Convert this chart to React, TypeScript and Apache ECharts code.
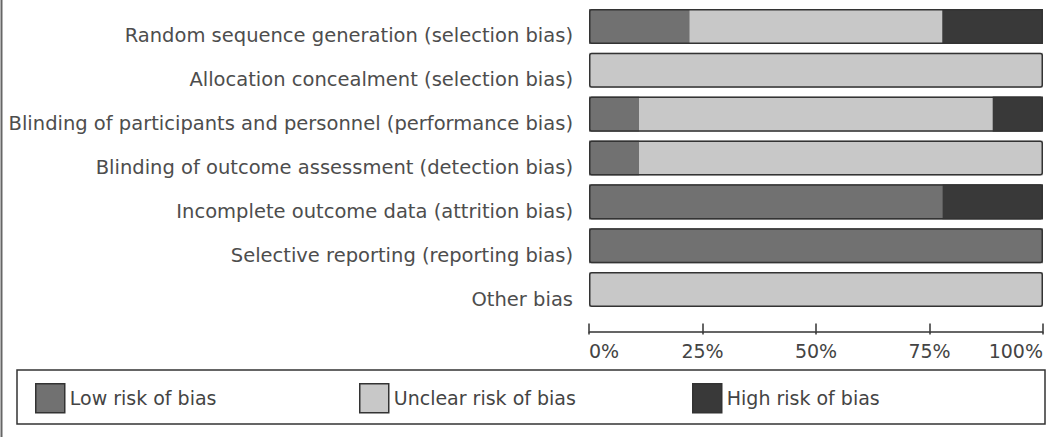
import React, { useEffect, useRef } from "react";
import * as echarts from "echarts";

const categories = [
  "Random sequence generation (selection bias)",
  "Allocation concealment (selection bias)",
  "Blinding of participants and personnel (performance bias)",
  "Blinding of outcome assessment (detection bias)",
  "Incomplete outcome data (attrition bias)",
  "Selective reporting (reporting bias)",
  "Other bias",
];
const lowRisk = [22.2, 0, 11.1, 11.1, 77.8, 100, 0];
const unclearRisk = [55.6, 100, 77.8, 88.9, 0, 0, 100];
const highRisk = [22.2, 0, 11.1, 0, 22.2, 0, 0];
const seriesNames = ["Low risk of bias", "Unclear risk of bias", "High risk of bias"];
const xTicks = [0, 25, 50, 75, 100];

const FONT = "DejaVu Sans";

export default function App() {
  const ref = useRef<HTMLDivElement>(null);
  useEffect(() => {
    if (!ref.current) return;
    const chart = echarts.init(ref.current, undefined, { renderer: "svg" });
    const colors = ["#717171", "#c8c8c8", "#393939"];
    const values = [lowRisk, unclearRisk, highRisk];
    const stackSeries = seriesNames.map((name, i) => ({
      name,
      type: "bar",
      stack: "total",
      barWidth: "80%",
      data: values[i],
      itemStyle: { color: colors[i], borderWidth: 0 },
    }));
    const legendLefts = [35, 359, 692];
    chart.setOption({
      animation: false,
      backgroundColor: "#ffffff",
      grid: { left: 589, right: 15, top: 4.5, height: 307, containLabel: false },
      xAxis: [
        {
          type: "value",
          min: xTicks[0],
          max: xTicks[xTicks.length - 1],
          interval: 25,
          position: "bottom",
          offset: 20,
          splitLine: { show: false },
          axisLine: { show: true, lineStyle: { color: "#333", width: 1.5 } },
          axisTick: { show: true, inside: true, length: 8, lineStyle: { color: "#333", width: 1.5 } },
          axisLabel: {
            formatter: "{value}%",
            color: "#444",
            fontFamily: FONT,
            fontSize: 19,
            margin: 10,
            alignMinLabel: "left",
            alignMaxLabel: "right",
          },
        },
        {
          type: "value",
          min: xTicks[0],
          max: xTicks[xTicks.length - 1],
          interval: 25,
          position: "bottom",
          offset: 20,
          splitLine: { show: false },
          axisLine: { show: false },
          axisTick: { show: true, inside: false, length: 3, lineStyle: { color: "#333", width: 1.5 } },
          axisLabel: { show: false },
        },
      ],
      yAxis: {
        type: "category",
        inverse: true,
        data: categories,
        axisLine: { show: false },
        axisTick: { show: false },
        axisLabel: {
          color: "#4d4d4d",
          fontFamily: FONT,
          fontSize: 19.5,
          margin: 16,
          verticalAlign: "top",
          lineHeight: 19,
        },
      },
      legend: seriesNames.map((name, i) => ({
        data: [name],
        left: legendLefts[i],
        top: 383,
        padding: 0,
        itemWidth: 29,
        itemHeight: 29,
        icon: "rect",
        itemStyle: { borderColor: "#333", borderWidth: 1.5 },
        textStyle: { color: "#444", fontFamily: FONT, fontSize: 19 },
        selectedMode: false,
      })),
      graphic: [
        {
          type: "line",
          shape: { x1: 1.5, y1: 0, x2: 1.5, y2: 437 },
          style: { stroke: "#666", lineWidth: 2 },
        },
        {
          type: "rect",
          shape: { x: 17, y: 370, width: 1028, height: 54 },
          style: { stroke: "#333", lineWidth: 1.5, fill: "none" },
        },
      ],
      series: [
        ...stackSeries,
        {
          name: "outline",
          type: "bar",
          barWidth: "80%",
          barGap: "-100%",
          silent: true,
          z: 5,
          data: categories.map(() => 100),
          itemStyle: { color: "rgba(0,0,0,0)", borderColor: "#333", borderWidth: 1.5, borderRadius: 2 },
        },
      ],
    });
    return () => chart.dispose();
  }, []);
  return (
    <div
      ref={ref}
      style={{ position: "fixed", left: 0, top: 0, width: 1058, height: 437 }}
    />
  );
}
